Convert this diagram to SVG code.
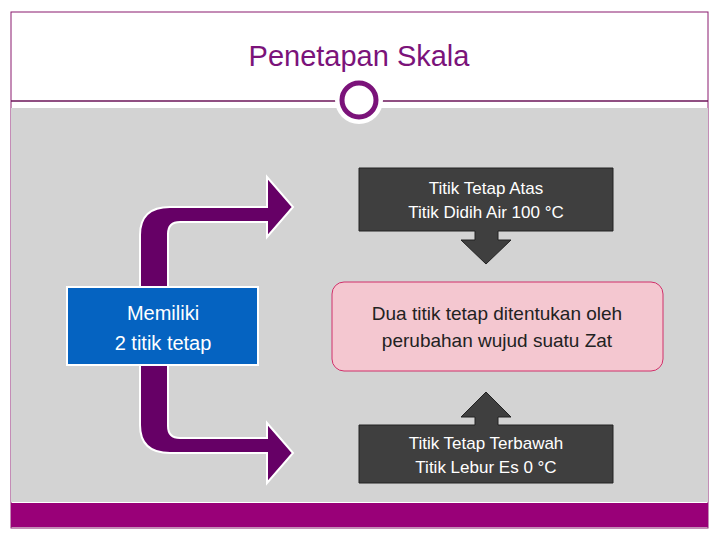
<svg xmlns="http://www.w3.org/2000/svg" width="720" height="540" viewBox="0 0 720 540">
<style>
text{font-family:"Liberation Sans",Arial,sans-serif}
.w{fill:#fff;font-size:17px;text-anchor:middle}
.dk{fill:#3f3f3f;stroke:#222;stroke-width:1}
</style>
<rect width="720" height="540" fill="#fff"/>
<rect x="11" y="12" width="697" height="516" fill="#fff" stroke="#8a1a6e" stroke-width="1"/>
<rect x="11" y="108" width="697" height="394" fill="#d3d3d3"/>
<rect x="11" y="503" width="697" height="24" fill="#990078"/>
<line x1="11" y1="101" x2="708" y2="101" stroke="#6b1458" stroke-width="1.5"/>
<circle cx="359" cy="100" r="24" fill="#fff"/>
<circle cx="359" cy="100" r="17" fill="#fff" stroke="#7b137a" stroke-width="5"/>
<text x="359" y="66" font-size="29" fill="#7b137a" text-anchor="middle">Penetapan Skala</text>
<g id="connectors">
<path d="M140,330 V235 Q140,207 170,207 H267 V177 L293,207 L267,237 V222 H180 Q168,222 168,234 V330 Z" fill="#660066" stroke="#fff" stroke-width="2"/>
<path d="M140,330 V425 Q140,453 170,453 H267 V483 L293,453 L267,423 V438 H180 Q168,438 168,426 V330" fill="#660066" stroke="#fff" stroke-width="2"/>
</g>
<g id="blue">
<rect x="67" y="287" width="191" height="78" fill="#0563c1" stroke="#fff" stroke-width="2"/>
<text x="163" y="320" font-size="20" fill="#fff" text-anchor="middle">Memiliki</text>
<text x="163" y="350" font-size="20" fill="#fff" text-anchor="middle">2 titik tetap</text>
</g>
<g id="atas">
<path class="dk" d="M359,168 H613 V231 H498 V240 H511 L486,264 L461,240 H475 V231 H359 Z"/>
<text class="w" x="486" y="194">Titik Tetap Atas</text>
<text class="w" x="486" y="218">Titik Didih Air 100 °C</text>
</g>
<g id="bawah">
<path class="dk" d="M359,483 H613 V425 H498 V417 H511 L486,392 L461,417 H475 V425 H359 Z"/>
<text class="w" x="486" y="449">Titik Tetap Terbawah</text>
<text class="w" x="486" y="473">Titik Lebur Es   0 °C</text>
</g>
<g id="pink">
<rect x="332" y="282" width="331" height="89" rx="12" fill="#f4c7d0" stroke="#d0306a" stroke-width="1"/>
<text x="497" y="320" font-size="19" fill="#222" text-anchor="middle">Dua titik tetap ditentukan oleh</text>
<text x="497" y="347" font-size="19" fill="#222" text-anchor="middle">perubahan wujud suatu Zat</text>
</g>
</svg>
